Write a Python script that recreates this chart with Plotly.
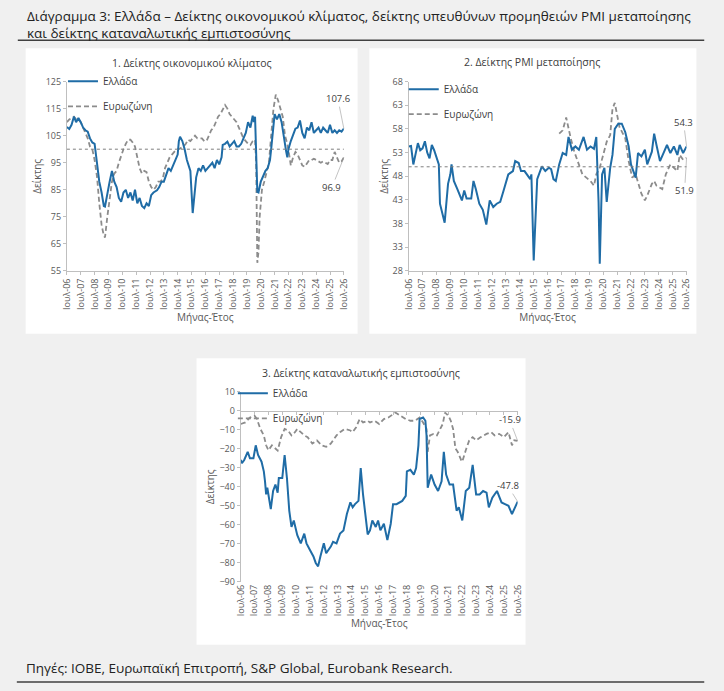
import plotly.graph_objects as go

W, H = 724, 691

years = list(range(2006, 2027))
tick_vals = [f"{y}-07-01" for y in years]
tick_text = [f"Ιουλ-{str(y)[2:]}" for y in years]

# 1. economic sentiment
esi_gr_dates = ["2006-07", "2006-09", "2006-11", "2007-01", "2007-03", "2007-05", "2007-07", "2007-09", "2007-11",
                "2008-01", "2008-03", "2008-05", "2008-07", "2008-09", "2008-11", "2009-01", "2009-03", "2009-04",
                "2009-06", "2009-08", "2009-10", "2009-12", "2010-02", "2010-04", "2010-06", "2010-08", "2010-10",
                "2010-12", "2011-02", "2011-04", "2011-06", "2011-08", "2011-10", "2011-12", "2012-02", "2012-04",
                "2012-06", "2012-08", "2012-10", "2013-01", "2013-03", "2013-05", "2013-07", "2013-09", "2013-11",
                "2014-01", "2014-03", "2014-05", "2014-07", "2014-08", "2014-09", "2014-11", "2015-01", "2015-03",
                "2015-05", "2015-06", "2015-08", "2015-10", "2015-11", "2016-01", "2016-03", "2016-05", "2016-07",
                "2016-09", "2016-11", "2017-01", "2017-03", "2017-05", "2017-07", "2017-09", "2017-10", "2017-12",
                "2018-02", "2018-04", "2018-06", "2018-08", "2018-10", "2018-12", "2019-02", "2019-04", "2019-06",
                "2019-08", "2019-10", "2019-12", "2020-01", "2020-02", "2020-04", "2020-05", "2020-07", "2020-09",
                "2020-11", "2021-01", "2021-03", "2021-04", "2021-05", "2021-06", "2021-07", "2021-09", "2021-11",
                "2022-01", "2022-03", "2022-05", "2022-06", "2022-07", "2022-09", "2022-11", "2023-01", "2023-03",
                "2023-05", "2023-07", "2023-09", "2023-11", "2024-01", "2024-03", "2024-05", "2024-07", "2024-09",
                "2024-11", "2025-01", "2025-03", "2025-05", "2025-07", "2025-09", "2025-11", "2026-01", "2026-03",
                "2026-05", "2026-07"]
esi_gr = [108.2, 107.5, 109, 112, 110, 111.5, 110, 108, 107,
          106.5, 104, 102.5, 102, 95, 88, 84, 79, 78.8,
          84, 88, 92, 88, 86, 82, 80.6, 84, 85,
          82, 84, 81, 85, 80, 82, 79, 78.2, 80,
          79, 83, 84, 84.8, 86, 88, 88, 91, 93,
          92, 94, 96, 98, 103, 104.6, 103, 100, 96,
          93, 92, 76.4, 87, 89.6, 93, 92, 94, 92,
          93, 94, 95, 93, 96, 94.4, 97, 101.6, 102,
          102.8, 101, 102, 103, 101, 101, 102, 104, 106,
          110, 108, 112.4, 110, 112, 84.2, 84, 88, 90,
          92, 93, 96, 100, 105, 110, 113, 111, 113,
          110, 104, 99.2, 97, 100, 103, 105, 107.6, 108,
          110.6, 106, 104, 108, 107, 110, 106, 107, 108,
          106, 108, 107, 106, 109, 106, 107, 106, 107,
          106.5, 107.6]

esi_ez_dates = ["2006-07", "2006-09", "2006-11", "2007-01", "2007-03", "2007-05", "2007-07", "2007-09", "2007-11",
                "2008-01", "2008-03", "2008-05", "2008-07", "2008-09", "2008-11", "2009-01", "2009-03", "2009-04",
                "2009-06", "2009-08", "2009-10", "2009-12", "2010-02", "2010-04", "2010-06", "2010-08", "2010-10",
                "2010-12", "2011-02", "2011-04", "2011-06", "2011-08", "2011-10", "2011-12", "2012-02", "2012-04",
                "2012-06", "2012-08", "2012-10", "2012-12", "2013-02", "2013-04", "2013-06", "2013-08", "2013-10",
                "2013-12", "2014-02", "2014-04", "2014-06", "2014-08", "2014-10", "2014-12", "2015-02", "2015-04",
                "2015-06", "2015-08", "2015-10", "2015-12", "2016-02", "2016-04", "2016-06", "2016-08", "2016-10",
                "2016-12", "2017-02", "2017-04", "2017-06", "2017-08", "2017-10", "2017-12", "2018-02", "2018-04",
                "2018-06", "2018-08", "2018-10", "2018-12", "2019-02", "2019-04", "2019-06", "2019-08", "2019-10",
                "2019-12", "2020-02", "2020-03", "2020-04", "2020-05", "2020-06", "2020-08", "2020-10", "2020-12",
                "2021-02", "2021-04", "2021-06", "2021-08", "2021-10", "2021-12", "2022-02", "2022-04", "2022-06",
                "2022-08", "2022-09", "2022-11", "2023-01", "2023-03", "2023-05", "2023-07", "2023-09", "2023-11",
                "2024-01", "2024-03", "2024-05", "2024-07", "2024-09", "2024-11", "2025-01", "2025-03", "2025-05",
                "2025-07", "2025-09", "2025-11", "2026-01", "2026-03", "2026-05", "2026-07"]
esi_ez = [110, 111, 111.5, 112, 111, 111, 110, 108, 106,
          104, 101, 100, 96, 90, 80, 72, 68, 67.4,
          75, 82, 88, 91, 92, 95, 98, 100, 102,
          103.5, 103.5, 102.5, 101, 97, 93, 91, 92, 91.5,
          88, 86, 85, 86, 88, 88, 89, 93, 95,
          97, 98, 99, 100, 100, 100.5, 101, 102, 103.5,
          103, 104, 105, 104, 104, 104, 103, 103, 105,
          107, 108, 110, 112, 113, 114.5, 116.3, 115, 113,
          112, 111, 110, 108, 106, 104, 103, 102, 101.5,
          103, 103.5, 95, 58, 62, 75, 85, 88, 92,
          95, 105, 115, 120.2, 118, 115, 112, 105, 102,
          97, 94, 97, 99, 98, 96, 94, 93.5, 95,
          96, 96, 96.5, 96, 95.5, 95, 95.5, 95, 94.5,
          96, 96, 99, 97, 95, 95.5, 96.9]

# 2. manufacturing PMI
pmi_gr_dates = ["2006-07", "2006-09", "2006-11", "2007-01", "2007-03", "2007-05", "2007-07", "2007-09", "2007-11",
                "2008-01", "2008-03", "2008-05", "2008-07", "2008-09", "2008-10", "2009-01", "2009-02", "2009-05",
                "2009-07", "2009-08", "2009-10", "2010-01", "2010-03", "2010-05", "2010-07", "2010-09", "2011-01",
                "2011-03", "2011-05", "2011-08", "2011-11", "2012-02", "2012-05", "2012-08", "2012-11", "2013-02",
                "2013-05", "2013-09", "2014-01", "2014-03", "2014-06", "2014-08", "2014-11", "2015-01", "2015-04",
                "2015-05", "2015-07", "2015-10", "2015-12", "2016-02", "2016-05", "2016-08", "2016-10", "2016-12",
                "2017-02", "2017-05", "2017-08", "2017-11", "2018-01", "2018-04", "2018-07", "2018-10", "2019-02",
                "2019-05", "2019-08", "2019-11", "2020-01", "2020-03", "2020-04", "2020-06", "2020-08", "2020-10",
                "2021-01", "2021-03", "2021-05", "2021-08", "2021-11", "2022-02", "2022-05", "2022-07", "2022-09",
                "2022-11", "2023-01", "2023-04", "2023-07", "2023-09", "2024-01", "2024-03", "2024-05", "2024-08",
                "2024-11", "2025-02", "2025-05", "2025-08", "2025-11", "2026-01", "2026-04", "2026-07"]
pmi_gr = [54.3, 54.4, 50.5, 53.2, 55, 53.5, 53.9, 55.4, 53,
          51.8, 54.6, 53.5, 51.8, 50.5, 42.2, 39.5, 38.2, 46.4,
          48.4, 50.5, 47, 45.3, 44, 42.9, 45, 43.3, 43.3,
          47, 45.3, 42.2, 40.9, 37.8, 42.9, 41.5, 42.2, 42.6,
          45, 48.4, 49.1, 51.2, 50.8, 49.1, 49.1, 48.5, 47.4,
          48.4, 30.2, 47.4, 49, 50.1, 49.1, 49.8, 49.5, 47.4,
          47, 50.5, 52.9, 52.5, 56.3, 53.6, 54.3, 53.6, 56.3,
          53.6, 54.3, 53.8, 56.3, 42.5, 29.5, 48.4, 49.8, 42.6,
          49.8, 52.5, 58, 59.1, 59.1, 57.3, 54.3, 50.5, 49.1,
          47.7, 52.9, 52.2, 53.6, 50.5, 53.2, 57, 54.6, 51.2,
          52.9, 54.6, 52.9, 54.3, 52.5, 54.6, 52.9, 54.3]

pmi_ez_dates = ["2017-05", "2017-08", "2017-11", "2018-01", "2018-03", "2018-06", "2018-09", "2019-01", "2019-06",
                "2019-08", "2019-11", "2020-01", "2020-04", "2020-07", "2020-10", "2021-01", "2021-03", "2021-05",
                "2021-07", "2021-09", "2022-02", "2022-05", "2022-08", "2022-11", "2023-04", "2023-07", "2023-09",
                "2024-01", "2024-03", "2024-05", "2024-10", "2025-01", "2025-05", "2025-08", "2025-11", "2026-01",
                "2026-04", "2026-07"]
pmi_ez = [57, 57.7, 60.4, 58, 56, 53.2, 51.2, 48.4, 47.4,
          47, 46, 48.4, 49.8, 52.5, 55.3, 56.7, 62.2, 63.5,
          60.8, 58.4, 56, 51.2, 47.7, 48.4, 44.3, 42.9, 43.9,
          46.4, 47, 46, 45.3, 48.4, 50.5, 49.8, 49.1, 52.5,
          51.5, 51.9]

# 3. consumer confidence
cc_gr_dates = ["2006-07", "2006-08", "2006-10", "2007-01", "2007-03", "2007-06", "2007-08", "2007-10", "2008-01",
               "2008-03", "2008-04", "2008-05", "2008-06", "2008-09", "2008-11", "2009-01", "2009-03", "2009-04",
               "2009-07", "2009-09", "2009-11", "2010-01", "2010-03", "2010-05", "2010-08", "2010-11", "2011-02",
               "2011-04", "2011-07", "2011-10", "2011-12", "2012-02", "2012-04", "2012-07", "2012-09", "2013-01",
               "2013-03", "2013-06", "2013-09", "2013-12", "2014-03", "2014-06", "2014-08", "2014-10", "2015-01",
               "2015-03", "2015-05", "2015-08", "2015-09", "2015-11", "2016-01", "2016-04", "2016-06", "2016-08",
               "2016-11", "2017-02", "2017-05", "2017-07", "2017-10", "2018-03", "2018-06", "2018-07", "2018-10",
               "2019-01", "2019-03", "2019-05", "2019-06", "2019-09", "2019-11", "2019-12", "2020-01", "2020-04",
               "2020-07", "2020-10", "2021-01", "2021-03", "2021-05", "2021-08", "2021-11", "2022-02", "2022-04",
               "2022-07", "2022-10", "2023-01", "2023-04", "2023-07", "2023-10", "2024-01", "2024-04", "2024-06",
               "2024-09", "2025-01", "2025-03", "2025-05", "2025-08", "2025-11", "2026-02", "2026-04", "2026-07"]
cc_gr = [-25.9, -27.6, -25.9, -21.6, -25, -25, -18.2, -23.3, -26.8,
         -31.9, -37, -44, -40.5, -51.7, -42.2, -38.8, -43.1, -35.4,
         -35.4, -23.3, -35.4, -52.5, -61.1, -57.7, -65.4, -69.7, -64.6,
         -69.7, -73.2, -76.6, -80, -81.8, -76.6, -69.7, -74.9, -71.4,
         -68.9, -69.7, -64.6, -62.9, -54.3, -48.2, -50.8, -49.1, -47.4,
         -30.2, -44, -61.1, -65, -62.9, -57.7, -61.1, -57.7, -62.9,
         -59.4, -68, -59.4, -49.1, -49.1, -47.4, -44.8, -31.9, -31.1,
         -33.6, -30.2, -18.2, -4.4, -3.6, -5.3, -13, -40.5, -33.6,
         -38.8, -42.2, -37.1, -21.6, -33.6, -38.8, -38.8, -52.5, -50.8,
         -57.7, -42.2, -40.5, -28.5, -44, -44, -42.2, -43.1, -50.8,
         -45.7, -42.2, -45.7, -48.2, -49.1, -50, -54.3, -51.7, -47.8]

cc_ez_dates = ["2006-07", "2006-11", "2007-03", "2007-07", "2007-09", "2007-12", "2008-03", "2008-05", "2008-07",
               "2008-10", "2009-01", "2009-03", "2009-06", "2009-09", "2009-12", "2010-03", "2010-06", "2010-08",
               "2010-11", "2011-02", "2011-05", "2011-09", "2012-01", "2012-05", "2012-09", "2013-01", "2013-06",
               "2013-09", "2014-01", "2014-06", "2014-08", "2014-11", "2015-02", "2015-05", "2015-09", "2015-11",
               "2016-03", "2016-07", "2016-11", "2017-03", "2017-09", "2018-01", "2018-06", "2018-10", "2019-02",
               "2019-06", "2019-09", "2019-12", "2020-01", "2020-03", "2020-06", "2020-09", "2020-12", "2021-02",
               "2021-04", "2021-07", "2021-09", "2021-11", "2022-01", "2022-03", "2022-06", "2022-07", "2022-10",
               "2023-01", "2023-04", "2023-07", "2023-11", "2024-04", "2024-08", "2024-11", "2025-03", "2025-07",
               "2025-11", "2026-02", "2026-04", "2026-07"]
cc_ez = [-7, -6.2, -3.6, -2.7, -4.4, -9.6, -13, -18.2, -20.8,
         -18.2, -19.9, -21, -13.9, -9.6, -10.4, -13, -11.3, -9.6,
         -11.3, -13, -13.9, -17.3, -15.6, -18.2, -19, -17.3, -13,
         -11.3, -9.6, -10.4, -11.3, -8.7, -4.4, -6.2, -5.3, -6.2,
         -5.3, -7, -4.4, -3.6, -1, -2.7, -4.4, -5.3, -5.3,
         -3.6, -6.2, -9.6, -21.6, -13, -12.2, -13, -9.6, -7,
         -1, -2.7, -5.3, -9.6, -19.9, -21.6, -25.9, -26.8, -20.8,
         -15.6, -13.9, -15.6, -13.9, -12.2, -11.3, -13, -12.2, -13.9,
         -11.3, -18.2, -15.6, -15.9]

BLUE = "#1f6ca6"
GREY = "#8c8c8c"
FONT = "Open Sans"


def px(x):
    return x / W


def py(y):
    return 1 - y / H


fig = go.Figure()

panels = [
    ("x", "y", esi_gr_dates, esi_gr, esi_ez_dates, esi_ez, "legend"),
    ("x2", "y2", pmi_gr_dates, pmi_gr, pmi_ez_dates, pmi_ez, "legend2"),
    ("x3", "y3", cc_gr_dates, cc_gr, cc_ez_dates, cc_ez, "legend3"),
]
for xa, ya, gd, gv, ed, ev, lg in panels:
    fig.add_trace(go.Scatter(x=ed, y=ev, xaxis=xa, yaxis=ya, mode="lines", name="Ευρωζώνη",
                             line=dict(color=GREY, width=1.8, dash="5px,3px"), legend=lg,
                             legendgroup=lg + "ez", legendrank=2))
    fig.add_trace(go.Scatter(x=gd, y=gv, xaxis=xa, yaxis=ya, mode="lines", name="Ελλάδα",
                             line=dict(color=BLUE, width=2), legend=lg,
                             legendgroup=lg + "gr", legendrank=1))

# axis carrying the tick marks along the zero line of panel 3
fig.add_trace(go.Scatter(x=[], y=[], xaxis="x4", yaxis="y3", showlegend=False))

tick_font = dict(family=FONT, size=9, color="#595959")
title_font = dict(family=FONT, size=10, color="#595959")
x_common = dict(type="date", range=["2006-07-01", "2026-07-01"], tickmode="array", tickvals=tick_vals,
                ticktext=tick_text, tickangle=-90, tickfont=tick_font, showgrid=False, zeroline=False,
                showline=True, linecolor="#bfbfbf", linewidth=1, ticks="outside", ticklen=3, tickcolor="#bfbfbf")
y_common = dict(showgrid=False, zeroline=False, showline=True, linecolor="#bfbfbf", linewidth=1,
                ticks="outside", ticklen=3, tickcolor="#bfbfbf", tickfont=tick_font)

dom1x = [px(61), px(343)]
dom2x = [px(409), px(692)]
dom3x = [px(238), px(520)]
domty = [py(269), py(76)]
dom3y = [py(586), py(392)]

leg = dict(xanchor="left", yanchor="top", bgcolor="rgba(0,0,0,0)",
           font=dict(family=FONT, size=10, color="#404040"), itemwidth=30, tracegroupgap=6,
           traceorder="grouped")

fig.update_layout(
    width=W, height=H,
    margin=dict(l=0, r=0, t=0, b=0),
    paper_bgcolor="#f0f0f0",
    plot_bgcolor="rgba(0,0,0,0)",
    font=dict(family=FONT, color="#404040"),
    xaxis=dict(x_common, domain=dom1x, anchor="y",
               title=dict(text="Μήνας-Έτος", font=title_font, standoff=4)),
    yaxis=dict(y_common, domain=domty, anchor="x", range=[55, 125], dtick=10, tick0=55,
               title=dict(text="Δείκτης", font=title_font, standoff=2)),
    xaxis2=dict(x_common, domain=dom2x, anchor="y2",
                title=dict(text="Μήνας-Έτος", font=title_font, standoff=4)),
    yaxis2=dict(y_common, domain=domty, anchor="x2", range=[28, 68], dtick=5, tick0=28,
                title=dict(text="Δείκτης", font=title_font, standoff=2)),
    xaxis3=dict(x_common, domain=dom3x, anchor="y3", showline=False, ticks="",
                title=dict(text="Μήνας-Έτος", font=title_font, standoff=4)),
    yaxis3=dict(y_common, domain=dom3y, anchor="x3", range=[-90, 10], dtick=10,
                title=dict(text="Δείκτης", font=title_font, standoff=2)),
    xaxis4=dict(type="date", range=["2006-07-01", "2026-07-01"], overlaying="x3", anchor="free",
                position=dom3y[0] + 0.9 * (dom3y[1] - dom3y[0]), tickmode="array", tickvals=tick_vals,
                showticklabels=False, showgrid=False, zeroline=False, showline=True, linecolor="#bfbfbf",
                ticks="outside", ticklen=3, tickcolor="#bfbfbf"),
    legend=dict(leg, x=px(57), y=py(61)),
    legend2=dict(leg, x=px(404), y=py(69)),
    legend3=dict(leg, x=px(230), y=py(379)),
)

shapes = [
    # white chart panels
    dict(type="rect", xref="paper", yref="paper", x0=px(19), x1=px(357), y0=py(333), y1=py(42),
         fillcolor="white", line_width=0, layer="below"),
    dict(type="rect", xref="paper", yref="paper", x0=px(369), x1=px(702), y0=py(333), y1=py(42),
         fillcolor="white", line_width=0, layer="below"),
    dict(type="rect", xref="paper", yref="paper", x0=px(193), x1=px(528), y0=py(650), y1=py(358),
         fillcolor="white", line_width=0, layer="below"),
    # header / footer rules
    dict(type="line", xref="paper", yref="paper", x0=px(11), x1=px(710), y0=py(34), y1=py(34),
         line=dict(color="#404040", width=1.5)),
    dict(type="line", xref="paper", yref="paper", x0=px(10), x1=px(710), y0=py(688), y1=py(688),
         line=dict(color="#404040", width=1.5)),
    # reference levels
    dict(type="line", xref="x domain", yref="y", x0=0, x1=1, y0=100, y1=100,
         line=dict(color="#7f7f7f", width=1, dash="dot")),
    dict(type="line", xref="x2 domain", yref="y2", x0=0, x1=1, y0=50, y1=50,
         line=dict(color="#7f7f7f", width=1, dash="dot")),
]
fig.update_layout(shapes=shapes)

head_font = dict(family=FONT, size=13.5, color="#222222")
ann = [
    dict(text="Διάγραμμα 3: Ελλάδα – Δείκτης οικονομικού κλίματος, δείκτης υπευθύνων προμηθειών PMI μεταποίησης",
         xref="paper", yref="paper", x=px(19), y=py(9), xanchor="left", yanchor="middle",
         showarrow=False, font=head_font, borderpad=0),
    dict(text="και δείκτης καταναλωτικής εμπιστοσύνης",
         xref="paper", yref="paper", x=px(19), y=py(26), xanchor="left", yanchor="middle",
         showarrow=False, font=head_font, borderpad=0),
    dict(text="Πηγές: ΙΟΒΕ, Ευρωπαϊκή Επιτροπή, S&P Global, Eurobank Research.",
         xref="paper", yref="paper", x=px(17), y=py(674), xanchor="left", yanchor="middle",
         showarrow=False, font=dict(family=FONT, size=13.5, color="#222222")),
    dict(text="1. Δείκτης οικονομικού κλίματος", xref="paper", yref="paper", x=px(188), y=py(57),
         xanchor="center", yanchor="middle", showarrow=False, font=dict(family=FONT, size=10.5, color="#404040")),
    dict(text="2. Δείκτης PMI μεταποίησης", xref="paper", yref="paper", x=px(535), y=py(56),
         xanchor="center", yanchor="middle", showarrow=False, font=dict(family=FONT, size=10.5, color="#404040")),
    dict(text="3. Δείκτης καταναλωτικής εμπιστοσύνης", xref="paper", yref="paper", x=px(360), y=py(373),
         xanchor="center", yanchor="middle", showarrow=False, font=dict(family=FONT, size=10.5, color="#404040")),
]
# last-value labels
ends = [
    ("x", "y", esi_gr_dates[-1], esi_gr[-1], -6, -30),
    ("x", "y", esi_ez_dates[-1], esi_ez[-1], -12, 30),
    ("x2", "y2", pmi_gr_dates[-1], pmi_gr[-1], -3, -24),
    ("x2", "y2", pmi_ez_dates[-1], pmi_ez[-1], -2, 33),
    ("x3", "y3", cc_ez_dates[-1], cc_ez[-1], -8, -21),
    ("x3", "y3", cc_gr_dates[-1], cc_gr[-1], -10, -16),
]
for xa, ya, d, v, ax, ay in ends:
    ann.append(dict(x=d, y=v, xref=xa, yref=ya, text=f"{v:.1f}", showarrow=True, arrowhead=0,
                    arrowwidth=0.6, arrowcolor="#9a9a9a", ax=ax, ay=ay,
                    font=dict(family=FONT, size=9.5, color="#404040")))
fig.update_layout(annotations=ann)

# the page's default body margin would shift the fixed-size figure
fig.write_html("out.html", config={"displayModeBar": False},
               post_script="document.body.style.margin = '0';")
